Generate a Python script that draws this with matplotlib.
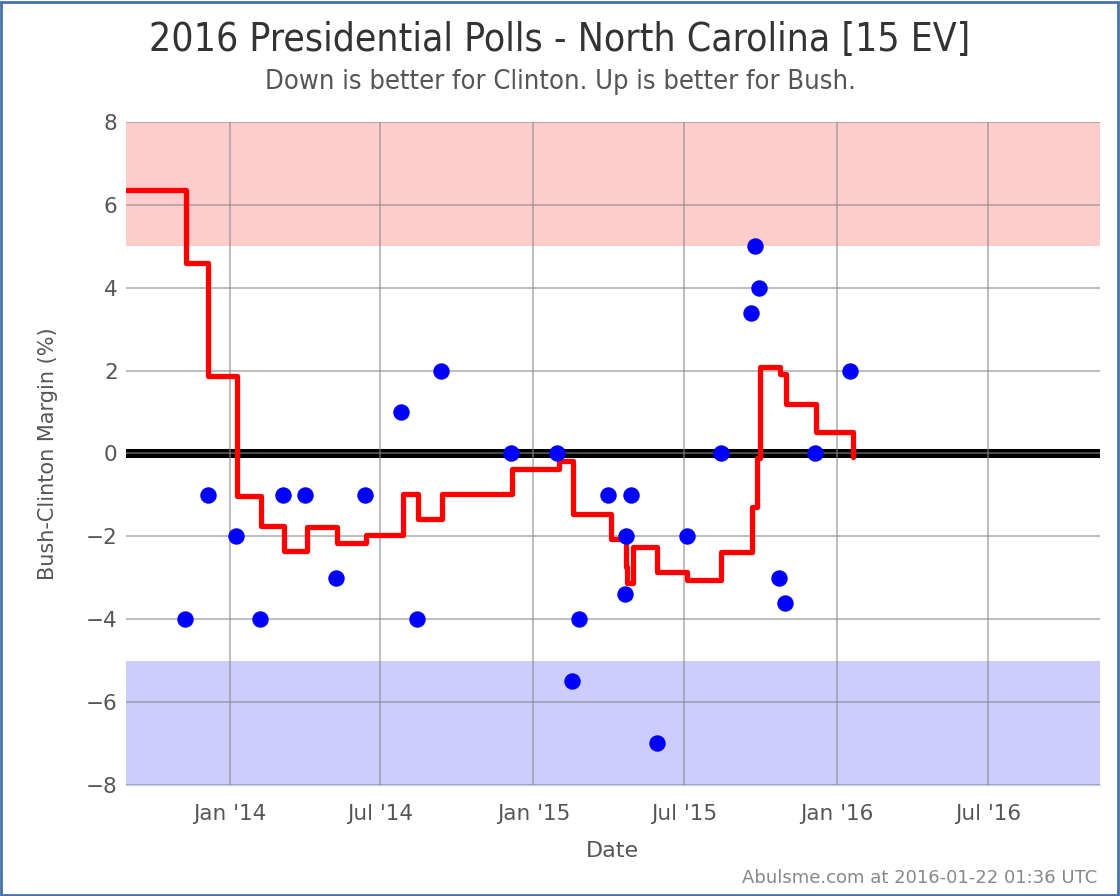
import matplotlib
matplotlib.use("Agg")
import matplotlib.pyplot as plt
import pandas as pd
from matplotlib.patches import Rectangle

# Individual polls (Bush - Clinton margin)
poll_dates = ["2013-11-08", "2013-12-06", "2014-01-08", "2014-02-06", "2014-03-06",
              "2014-04-01", "2014-05-08", "2014-06-12", "2014-07-26", "2014-08-14",
              "2014-09-12", "2014-12-05", "2015-01-29", "2015-02-16", "2015-02-25",
              "2015-04-01", "2015-04-22", "2015-04-21", "2015-04-28", "2015-05-29",
              "2015-07-04", "2015-08-14", "2015-09-19", "2015-09-24", "2015-09-29",
              "2015-10-23", "2015-10-30", "2015-12-05", "2016-01-16"]
poll_margins = [-4, -1, -2, -4, -1,
                -1, -3, -1, 1, -4,
                2, 0, 0, -5.5, -4,
                -1, -2, -3.4, -1, -7,
                -2, 0, 3.4, 5, 4,
                -3, -3.6, 0, 2]

# Poll average (step line)
avg_dates = ["2013-08-29", "2013-11-09", "2013-12-06", "2014-01-09", "2014-02-07",
             "2014-03-07", "2014-04-04", "2014-05-10", "2014-06-14", "2014-07-28",
             "2014-08-15", "2014-09-13", "2014-12-06", "2015-02-01", "2015-02-18",
             "2015-04-04", "2015-04-22", "2015-04-24", "2015-05-01", "2015-05-30",
             "2015-07-05", "2015-08-15", "2015-09-21", "2015-09-27", "2015-09-30",
             "2015-10-25", "2015-11-01", "2015-12-07", "2016-01-20"]
avg_margins = [6.35, 4.6, 1.87, -1.02, -1.76,
               -2.35, -1.78, -2.17, -1.98, -0.98,
               -1.57, -0.98, -0.38, -0.17, -1.47,
               -2.07, -2.73, -3.13, -2.25, -2.85,
               -3.05, -2.37, -1.3, -0.1, 2.09,
               1.91, 1.19, 0.53, -0.09]

tick_dates = ["2014-01-01", "2014-07-01", "2015-01-01", "2015-07-01", "2016-01-01", "2016-07-01"]
tick_labels = ["Jan '14", "Jul '14", "Jan '15", "Jul '15", "Jan '16", "Jul '16"]

poll_x = pd.to_datetime(poll_dates)
avg_x = pd.to_datetime(avg_dates)
x_start = pd.Timestamp("2013-08-29")
x_end = pd.Timestamp("2016-11-12")

narrow = ["Liberation Sans Narrow", "DejaVu Sans"]

fig = plt.figure(figsize=(11.2, 8.96), dpi=100)
ax = fig.add_axes([0.1125, 0.124, 0.8695, 0.7398])

ax.axhspan(5, 8, color="#ffcccc", zorder=0, lw=0)
ax.axhspan(-8, -5, color="#ccccff", zorder=0, lw=0)
ax.axhline(0, color="black", lw=6.5, zorder=1)

ax.grid(True, color="#888888", alpha=0.6, lw=1.3, zorder=2)
ax.set_axisbelow(False)

# extend step line to the end of the last segment
ax.step(list(avg_x) + [avg_x[-1]], avg_margins + [avg_margins[-1]], where="post",
        color="red", lw=3.8, zorder=3, solid_joinstyle="round", solid_capstyle="round")
ax.scatter(poll_x, poll_margins, s=140, color="blue", zorder=4, lw=0)

ax.set_xlim(x_start, x_end)
ax.set_ylim(-8, 8)
ax.set_yticks(range(-8, 9, 2))
ax.set_xticks(pd.to_datetime(tick_dates))
ax.set_xticklabels(tick_labels)

for s in ["top", "right", "left"]:
    ax.spines[s].set_visible(False)
ax.spines["bottom"].set_color("#c0d0e0")
ax.tick_params(axis="x", length=0, labelsize=15.5, labelcolor="#555555", pad=14)
ax.tick_params(axis="y", length=0, labelsize=15.5, labelcolor="#555555", pad=6)
ax.set_xlabel("Date", fontsize=16, color="#555555", labelpad=12)
ax.set_ylabel("Bush-Clinton Margin (%)", fontsize=15, color="#555555", labelpad=20)

fig.text(0.5, 0.955, "2016 Presidential Polls - North Carolina [15 EV]", ha="center", va="center",
         fontsize=28, color="#333333", family=narrow, fontstretch="condensed")
fig.text(0.5, 0.908, "Down is better for Clinton. Up is better for Bush.", ha="center", va="center",
         fontsize=19.5, color="#555555", family=narrow, fontstretch="condensed")
fig.text(0.98, 0.02, "Abulsme.com at 2016-01-22 01:36 UTC", ha="right", va="center",
         fontsize=13, color="#888888")

fig.patches.append(Rectangle((0.001, 0.001), 0.997, 0.997, transform=fig.transFigure,
                             fill=False, edgecolor="#4572a7", lw=2))

fig.savefig("out.png", dpi=100)
